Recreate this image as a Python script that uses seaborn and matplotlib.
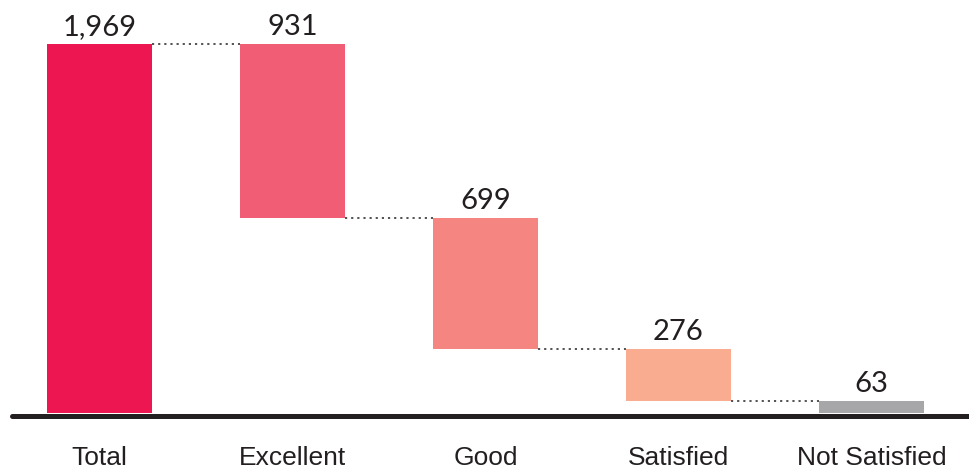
import matplotlib
matplotlib.use("Agg")
import matplotlib.pyplot as plt
import seaborn as sns
import numpy as np

categories = ["Total", "Excellent", "Good", "Satisfied", "Not Satisfied"]
values = [1969, 931, 699, 276, 63]
value_labels = ["1,969", "931", "699", "276", "63"]
colors = ["#EE1651", "#F05D74", "#F48580", "#F9AC8F", "#A7A7AA"]

# waterfall bottoms
bottoms = [0]
level = values[0]
for v in values[1:]:
    level -= v
    bottoms.append(level)
tops = [b + v for b, v in zip(bottoms, values)]

sns.set_style("white")
fig = plt.figure(figsize=(9.69, 4.70), dpi=100)
ax = fig.add_axes([0, (470 - 418.6) / 470, 1, 418.6 / 470])

width = 0.544
sns.barplot(x=categories, y=values, color=colors[0], width=width, saturation=1,
            bottom=bottoms, ax=ax, linewidth=0)
for patch, c in zip(ax.patches, colors):
    patch.set_facecolor(c)

ax.set_xlim(-99.5 / 193, (969 - 99.5) / 193)
ax.set_ylim(-30, 2204)

# connectors
for i in range(len(values) - 1):
    lvl = bottoms[i] if i > 0 else tops[i]
    ax.plot([i + width / 2, i + 1 - width / 2], [lvl, lvl], linestyle=(0, (1.2, 2.2)),
            color="#444444", lw=1.3)

# baseline
ax.axhline(-13.5, xmin=12 / 969, xmax=1, color="#231F20", lw=3.6)

for i, (t, lab) in enumerate(zip(tops, value_labels)):
    ax.text(i, t + 48, lab, ha="center", va="baseline", fontsize=21,
            family="Lato", color="#231F20")

for s in ax.spines.values():
    s.set_visible(False)
ax.set_yticks([])
ax.set_xticks(range(len(categories)))
ax.set_xticklabels(categories, fontsize=19, family="Liberation Sans", color="#231F20")
ax.tick_params(axis="x", length=0, pad=20)
ax.set_xlabel("")
ax.set_ylabel("")

fig.savefig("out.png", dpi=100)
